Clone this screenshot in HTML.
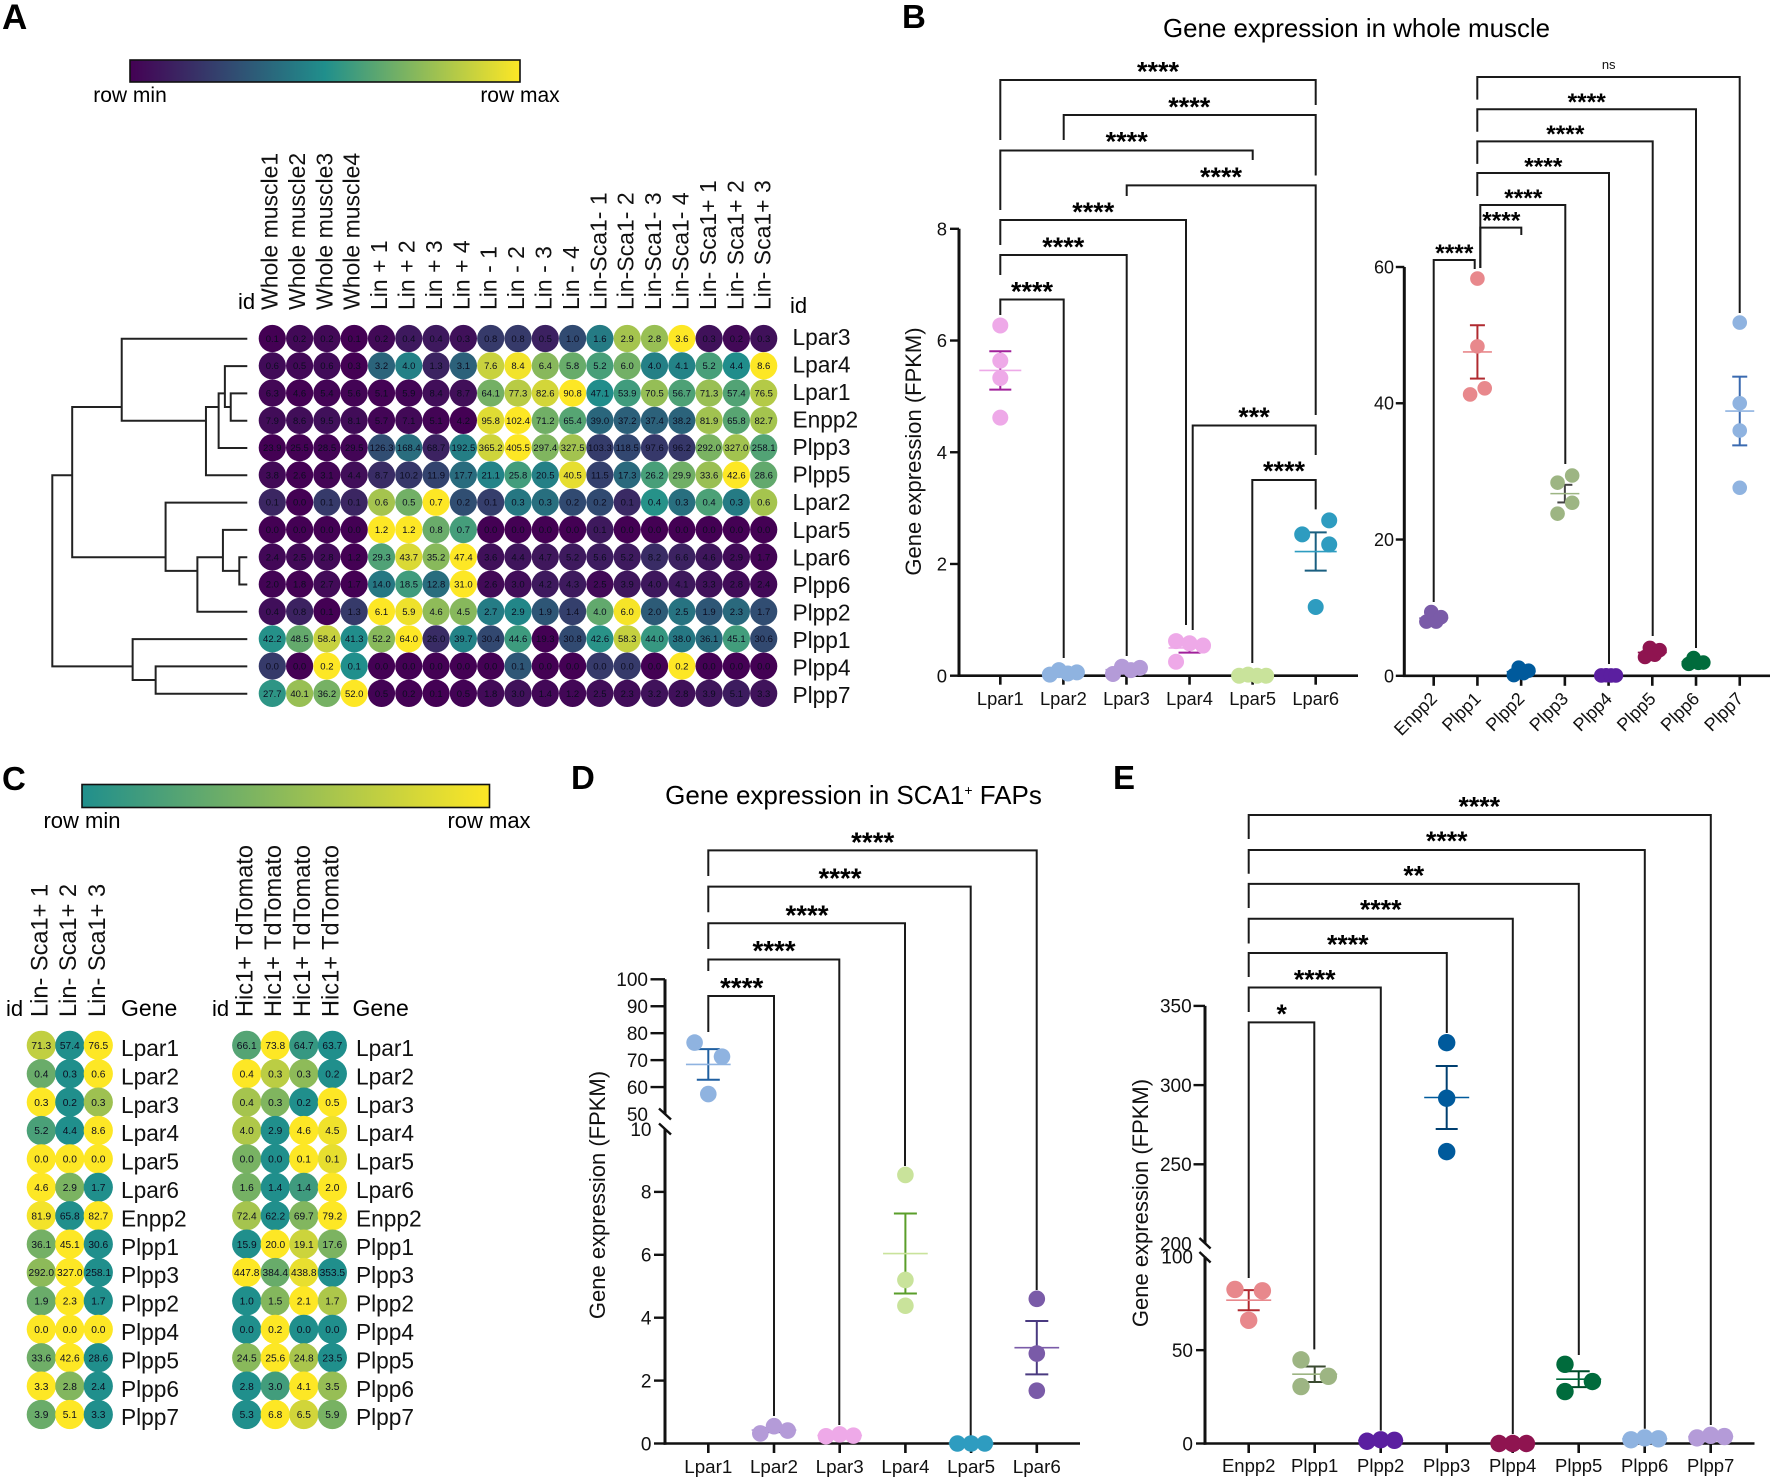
<!DOCTYPE html>
<html lang="en">
<head>
<meta charset="utf-8">
<title>Gene expression figure</title>
<style>
html,body{margin:0;padding:0;background:#fff;}
svg{display:block;font-family:"Liberation Sans",Arial,sans-serif;}
</style>
</head>
<body>
<svg id="figure" xmlns="http://www.w3.org/2000/svg" width="1772" height="1480" viewBox="0 0 1772 1480">
  <defs>
    <linearGradient id="grad-viridis" x1="0" x2="1" y1="0" y2="0">
      <stop offset="0" stop-color="#440154"/>
      <stop offset="0.5" stop-color="#208f8c"/>
      <stop offset="1" stop-color="#fde725"/>
    </linearGradient>
    <linearGradient id="grad-teal" x1="0" x2="1" y1="0" y2="0">
      <stop offset="0" stop-color="#208f8c"/>
      <stop offset="1" stop-color="#fde725"/>
    </linearGradient>
  </defs>
  <rect x="0" y="0" width="1772" height="1480" fill="#fff"/>

  <text x="2" y="29" font-size="35" font-weight="bold">A</text>
  <text x="902" y="28" font-size="33" font-weight="bold">B</text>
  <text x="2" y="790" font-size="33" font-weight="bold">C</text>
  <text x="571" y="789" font-size="33" font-weight="bold">D</text>
  <text x="1113" y="789" font-size="33" font-weight="bold">E</text>

  <rect x="130" y="60" width="390" height="22" fill="url(#grad-viridis)" stroke="#111" stroke-width="1.6"/>
  <text x="130" y="102" font-size="21" text-anchor="middle">row min</text>
  <text x="520" y="102" font-size="21" text-anchor="middle">row max</text>

  <rect x="82" y="784.5" width="407.5" height="23" fill="url(#grad-teal)" stroke="#111" stroke-width="1.6"/>
  <text x="82" y="828" font-size="22" text-anchor="middle">row min</text>
  <text x="489" y="828" font-size="22" text-anchor="middle">row max</text>

  <text x="1356.5" y="37" font-size="25.9" text-anchor="middle">Gene expression in whole muscle</text>
  <text x="853.5" y="804" font-size="26" text-anchor="middle">Gene expression in SCA1<tspan dy="-9" font-size="14">+</tspan><tspan dy="9"> FAPs</tspan></text>

  <text x="238" y="309" font-size="22">id</text>
  <text x="790" y="313" font-size="22">id</text>
  <text x="6" y="1016" font-size="22">id</text>
  <text x="121" y="1016" font-size="23">Gene</text>
  <text x="212" y="1016" font-size="22">id</text>
  <text x="352.5" y="1016" font-size="23">Gene</text>

  <g id="layer-a"></g>
  <g id="layer-c1"></g>
  <g id="layer-c2"></g>
  <g id="layer-b-left"></g>
  <g id="layer-b-right"></g>
  <g id="layer-d"></g>
  <g id="layer-e"></g>
</svg>

<script>
/* ---------- Panel A heatmap data ---------- */
const heatAColumns = ['Whole muscle1','Whole muscle2','Whole muscle3','Whole muscle4','Lin + 1','Lin + 2','Lin + 3','Lin + 4','Lin - 1','Lin - 2','Lin - 3','Lin - 4','Lin-Sca1- 1','Lin-Sca1- 2','Lin-Sca1- 3','Lin-Sca1- 4','Lin- Sca1+ 1','Lin- Sca1+ 2','Lin- Sca1+ 3'];
const heatARows = ['Lpar3','Lpar4','Lpar1','Enpp2','Plpp3','Plpp5','Lpar2','Lpar5','Lpar6','Plpp6','Plpp2','Plpp1','Plpp4','Plpp7'];
const heatAValues = [
  [0.1,0.2,0.2,0.1,0.2,0.4,0.4,0.3,0.8,0.8,0.5,1.0,1.6,2.9,2.8,3.6,0.3,0.2,0.3],
  [0.6,0.5,0.6,0.3,3.2,4.0,1.3,3.1,7.6,8.4,6.4,5.8,5.2,6.0,4.0,4.1,5.2,4.4,8.6],
  [6.3,4.6,5.4,5.6,5.1,5.9,8.4,8.7,64.1,77.3,82.6,90.8,47.1,53.9,70.5,56.7,71.3,57.4,76.5],
  [7.9,8.6,9.5,8.1,5.7,7.1,5.1,4.2,95.8,102.4,71.2,65.4,39.0,37.2,37.4,38.2,81.9,65.8,82.7],
  [23.9,25.5,28.5,29.5,126.3,168.4,68.7,192.5,365.2,405.5,297.4,327.5,103.3,118.5,97.6,96.2,292.0,327.0,258.1],
  [3.8,2.6,3.1,4.4,8.7,10.2,11.9,17.7,21.1,25.8,20.5,40.5,11.5,17.3,26.2,29.9,33.6,42.6,28.6],
  [0.09,0.0,0.14,0.09,0.56,0.48,0.7,0.19,0.15,0.29,0.27,0.18,0.18,0.1,0.36,0.27,0.42,0.3,0.56],
  [0.0,0.0,0.0,0.0,1.2,1.2,0.8,0.7,0.0,0.0,0.0,0.0,0.1,0.0,0.0,0.0,0.0,0.0,0.0],
  [2.4,2.5,2.8,1.2,29.3,43.7,35.2,47.4,3.6,4.4,4.7,5.2,5.6,5.2,8.2,6.6,4.6,2.9,1.7],
  [2.0,1.8,2.7,1.7,14.0,18.5,12.8,31.0,2.6,3.0,4.2,4.3,2.5,3.9,4.0,4.1,3.3,2.8,2.4],
  [0.4,0.8,0.1,1.3,6.1,5.9,4.6,4.5,2.7,2.9,1.9,1.4,4.0,6.0,2.0,2.5,1.9,2.3,1.7],
  [42.2,48.5,58.4,41.3,52.2,64.0,26.0,39.7,30.4,44.6,19.3,30.8,42.6,58.3,44.0,38.0,36.1,45.1,30.6],
  [0.04,0.0,0.2,0.1,0.0,0.0,0.0,0.0,0.0,0.06,0.0,0.0,0.04,0.04,0.0,0.2,0.0,0.0,0.0],
  [27.7,40.1,36.2,52.0,0.5,0.2,0.1,0.5,1.8,3.0,1.4,1.2,2.5,2.3,3.2,2.8,3.9,5.1,3.3]
];
/* Dendrogram merges: [childA, childB, height]. Child < 14 is a leaf row; child >= 14 is merge (child - 14). */
const dendrogramMerges = [
  [8,9,0.041],[7,14,0.125],[15,10,0.256],[6,16,0.419],
  [2,3,0.085],[1,18,0.115],[19,4,0.147],[20,5,0.212],[0,21,0.644],[22,17,0.898],
  [12,13,0.47],[11,24,0.588],[23,25,1.0]
];

/* ---------- Panel C heatmap data ---------- */
const heatCRows = ['Lpar1','Lpar2','Lpar3','Lpar4','Lpar5','Lpar6','Enpp2','Plpp1','Plpp3','Plpp2','Plpp4','Plpp5','Plpp6','Plpp7'];
const heatC1Columns = ['Lin- Sca1+ 1','Lin- Sca1+ 2','Lin- Sca1+ 3'];
const heatC1Values = [
  [71.3,57.4,76.5],[0.4,0.3,0.6],[0.34,0.2,0.28],[5.2,4.4,8.6],[0.0,0.0,0.0],[4.6,2.9,1.7],[81.9,65.8,82.7],
  [36.1,45.1,30.6],[292.0,327.0,258.1],[1.9,2.3,1.7],[0.0,0.0,0.0],[33.6,42.6,28.6],[3.3,2.8,2.4],[3.9,5.1,3.3]
];
const heatC2Columns = ['Hic1+ TdTomato','Hic1+ TdTomato','Hic1+ TdTomato','Hic1+ TdTomato'];
const heatC2Values = [
  [66.1,73.8,64.7,63.7],[0.4,0.34,0.3,0.2],[0.38,0.33,0.2,0.5],[4.0,2.9,4.6,4.5],[0.04,0.0,0.1,0.09],[1.6,1.35,1.44,2.0],[72.4,62.2,69.7,79.2],
  [15.9,20.0,19.1,17.6],[447.8,384.4,438.8,353.5],[1.0,1.5,2.1,1.7],[0.0,0.2,0.0,0.0],[24.5,25.6,24.8,23.5],[2.8,3.0,4.1,3.5],[5.3,6.8,6.5,5.9]
];

/* ---------- Panel B data ---------- */
const bLeftCategories = ['Lpar1','Lpar2','Lpar3','Lpar4','Lpar5','Lpar6'];
const bLeftYTicks = [0,2,4,6,8];
const bLeftValues = [
  [6.27,5.64,5.33,4.62],
  [0.02,0.10,0.04,0.06],
  [0.03,0.16,0.10,0.14],
  [0.62,0.25,0.54,0.58],
  [0.0,0.02,0.0,0.0],
  [2.53,2.78,2.35,1.23]
];
const bRightCategories = ['Enpp2','Plpp1','Plpp2','Plpp3','Plpp4','Plpp5','Plpp6','Plpp7'];
const bRightYTicks = [0,20,40,60];
const bRightValues = [
  [7.95,9.36,7.95,8.6],
  [58.3,48.35,41.3,42.2],
  [0.1,1.2,0.4,0.75],
  [28.35,29.4,23.8,25.4],
  [0.05,0.08,0.05,0.05],
  [2.76,4.1,3.1,3.77],
  [1.75,2.6,1.9,1.95],
  [51.85,40,36,27.6]
];

/* ---------- Panel D data ---------- */
const dCategories = ['Lpar1','Lpar2','Lpar3','Lpar4','Lpar5','Lpar6'];
const dYTicks = [0,2,4,6,8,10,50,60,70,80,90,100];
const dUntickedLabels = [10,50];
const dValues = [
  [76.5,71.3,57.4],
  [0.32,0.55,0.41],
  [0.23,0.29,0.25],
  [8.54,5.2,4.38],
  [0.0,0.0,0.0],
  [4.6,2.86,1.68]
];

/* ---------- Panel E data ---------- */
const eCategories = ['Enpp2','Plpp1','Plpp2','Plpp3','Plpp4','Plpp5','Plpp6','Plpp7'];
const eYTicks = [0,50,100,200,250,300,350];
const eUntickedLabels = [100,200];
const eValues = [
  [82.5,81.8,66],
  [44.8,30.5,36],
  [1.2,2,1.7],
  [326.8,291.7,258],
  [0,0,0],
  [42.4,27.8,33.2],
  [2,3,2.5],
  [3,4.4,3.7]
];

/* ---------- Drawing helpers ---------- */
const SVGNS = 'http://www.w3.org/2000/svg';
function create(tag, attrs, parent) {
  const el = document.createElementNS(SVGNS, tag);
  for (const k in attrs) el.setAttribute(k, attrs[k]);
  parent.appendChild(el);
  return el;
}
function drawLine(parent, x1, y1, x2, y2, stroke, width, name) {
  const el = create('line', {x1: x1, y1: y1, x2: x2, y2: y2, stroke: stroke, 'stroke-width': width}, parent);
  
  
  return el;
}
function drawText(parent, x, y, str, size, extra, name) {
  const el = create('text', Object.assign({x: x, y: y, 'font-size': size}, extra || {}), parent);
  el.textContent = str;
  
  
  return el;
}
function slug(s) { return String(s).toLowerCase().replace(/[^a-z0-9]+/g, '-').replace(/^-|-$/g, ''); }
function lerpColor(a, b, t) {
  const pa = [1,3,5].map(function(i){ return parseInt(a.substr(i,2),16); });
  const pb = [1,3,5].map(function(i){ return parseInt(b.substr(i,2),16); });
  return 'rgb(' + pa.map(function(v,i){ return Math.round(v + (pb[i]-v)*t); }).join(',') + ')';
}
function viridisColor(t) {
  return t < 0.5 ? lerpColor('#440154','#208f8c',t*2) : lerpColor('#208f8c','#fde725',(t-0.5)*2);
}
function tealColor(t) { return lerpColor('#208f8c','#fde725',t); }

/* ---------- Heatmap ---------- */
function drawHeatmap(layer, rows, cols, values, colorFn, g) {
  rows.forEach(function(rowName, i) {
    const row = values[i];
    const mn = Math.min.apply(null, row), mx = Math.max.apply(null, row);
    row.forEach(function(v, j) {
      const t = mx === mn ? 1 : (v - mn) / (mx - mn);
      const cx = g.cx0 + j * g.dx, cy = g.cy0 + i * g.dy;
      const c = create('circle', {cx: cx, cy: cy, r: g.r, fill: colorFn(t)}, layer);
      
      
      drawText(layer, cx, cy + g.fs * 0.36, v.toFixed(1), g.fs, {'text-anchor': 'middle', fill: '#0c0c20'}, 'cell-value-' + slug(rowName) + '-' + (j + 1));
    });
    drawText(layer, g.labelX, g.labelY0 + i * g.labelDy, rowName, g.labelFs, {fill: '#111'}, 'row-label-' + slug(rowName));
  });
  cols.forEach(function(colName, j) {
    const x = g.colX0 + j * g.colDx, y = g.colBottom;
    drawText(layer, x, y, colName, g.colFs, {transform: 'rotate(-90 ' + x + ' ' + y + ')', fill: '#111'}, 'column-label-' + slug(colName) + '-' + (j + 1));
  });
}
drawHeatmap(document.getElementById('layer-a'), heatARows, heatAColumns, heatAValues, viridisColor, {
  cx0: 272.3, dx: 27.3, cy0: 338.5, dy: 27.3, r: 13.6, fs: 9.5,
  labelX: 792.5, labelY0: 345, labelDy: 27.54, labelFs: 22.7,
  colX0: 277.5, colDx: 27.4, colBottom: 310, colFs: 23
});
drawHeatmap(document.getElementById('layer-c1'), heatCRows, heatC1Columns, heatC1Values, tealColor, {
  cx0: 41.3, dx: 28.5, cy0: 1045.3, dy: 28.4, r: 14.6, fs: 10.2,
  labelX: 121, labelY0: 1056, labelDy: 28.4, labelFs: 22.7,
  colX0: 47.5, colDx: 28.7, colBottom: 1017, colFs: 23.6
});
drawHeatmap(document.getElementById('layer-c2'), heatCRows, heatC2Columns, heatC2Values, tealColor, {
  cx0: 246.7, dx: 28.55, cy0: 1045.3, dy: 28.4, r: 14.6, fs: 10.2,
  labelX: 356, labelY0: 1056, labelDy: 28.4, labelFs: 22.7,
  colX0: 252.5, colDx: 28.7, colBottom: 1017, colFs: 23.6
});

/* ---------- Dendrogram ---------- */
(function drawDendrogram() {
  const layer = document.getElementById('layer-a');
  const leafCount = heatARows.length;
  const xOfHeight = function(h) { return 247.3 - h * 195; };
  const rowY = function(i) { return 338.8 + i * 27.3; };
  const nodes = [];
  function info(child) {
    if (child < leafCount) return {x: xOfHeight(0), y: rowY(child), leaves: [child]};
    return nodes[child - leafCount];
  }
  dendrogramMerges.forEach(function(m, k) {
    const a = info(m[0]), b = info(m[1]);
    const x = xOfHeight(m[2]);
    const leaves = a.leaves.concat(b.leaves);
    const y = leaves.reduce(function(s, l) { return s + rowY(l); }, 0) / leaves.length;
    nodes.push({x: x, y: y, leaves: leaves});
    const el = create('polyline', {
      points: [a.x, a.y, x, a.y, x, b.y, b.x, b.y].join(' '),
      fill: 'none', stroke: '#222', 'stroke-width': 2
    }, layer);
    
    
  });
})();

/* ---------- Scatter chart machinery ---------- */
function makeYScale(segments) {
  return function(v) {
    let seg = segments[segments.length - 1];
    for (let i = 0; i < segments.length; i++) { if (v <= segments[i].d1) { seg = segments[i]; break; } }
    return seg.r0 + (v - seg.d0) / (seg.d1 - seg.d0) * (seg.r1 - seg.r0);
  };
}
/* Swarm layout: isolated dots stay centred, flat clusters spread evenly, chains alternate sides. */
function swarmOffsets(vals, yFn, r, spread) {
  const ys = vals.map(yFn);
  const T = 2 * r + 0.5;
  const order = vals.map(function(_, i) { return i; }).sort(function(a, b) { return ys[a] - ys[b]; });
  const clusters = [];
  order.forEach(function(i, k) {
    if (k > 0 && ys[i] - ys[order[k - 1]] < T) clusters[clusters.length - 1].push(i);
    else clusters.push([i]);
  });
  const off = vals.map(function() { return 0; });
  clusters.forEach(function(cl) {
    if (cl.length === 1) return;
    const inArrayOrder = cl.slice().sort(function(a, b) { return a - b; });
    const span = Math.max.apply(null, cl.map(function(i){ return ys[i]; })) - Math.min.apply(null, cl.map(function(i){ return ys[i]; }));
    if (span <= 1.4 * r) {
      inArrayOrder.forEach(function(i, k) { off[i] = spread * (2 * k / (cl.length - 1) - 1); });
    } else {
      const placed = [];
      inArrayOrder.forEach(function(i) {
        const slots = [-spread, spread, 0];
        for (let s = 0; s < slots.length; s++) {
          const hit = placed.some(function(p) { return p.o === slots[s] && Math.abs(ys[p.i] - ys[i]) < T; });
          if (!hit || s === slots.length - 1) { off[i] = slots[s]; placed.push({i: i, o: slots[s]}); break; }
        }
      });
    }
  });
  return off;
}
function drawScatter(layer, cfg) {
  const yFn = makeYScale(cfg.segments);
  const xFn = function(i) { return cfg.x0 + i * cfg.dx; };
  const y0 = yFn(0);
  const axisColor = '#111';
  /* axis */
  cfg.segments.forEach(function(s, k) {
    drawLine(layer, cfg.axisX, s.r0 + (k === 0 ? 1.25 : 0), cfg.axisX, s.r1, axisColor, 3, 'y-axis-segment-' + (k + 1));
  });
  drawLine(layer, cfg.axisX - 1.5, y0, cfg.xEnd, y0, axisColor, 2.6, 'x-axis');
  /* breaks */
  if (cfg.breakYs) cfg.breakYs.forEach(function(b, k) {
    drawLine(layer, cfg.axisX - cfg.breakW, b, cfg.axisX + cfg.breakW, b + cfg.breakH, axisColor, 2.4, 'axis-break-mark-' + (k + 1));
  });
  /* y ticks */
  cfg.yTicks.forEach(function(t) {
    const y = yFn(t);
    const upper = cfg.segments.length > 1 && t > cfg.segments[0].d1;
    const len = upper ? cfg.tickUpper : cfg.tickLower;
    const labelX = upper ? cfg.labelUpper : cfg.labelLower;
    if (!(cfg.unticked && cfg.unticked.indexOf(t) >= 0)) {
      drawLine(layer, cfg.axisX - len, y, cfg.axisX, y, axisColor, 2.4, 'y-tick-' + t);
    }
    drawText(layer, labelX, y + cfg.tickFs * 0.36, String(t), cfg.tickFs, {'text-anchor': 'end', fill: '#111'}, 'y-tick-label-' + t);
  });
  /* categories */
  cfg.categories.forEach(function(name, i) {
    const x = xFn(i);
    drawLine(layer, x, y0, x, y0 + cfg.xTickLen, axisColor, 2.6, 'x-tick-' + slug(name));
    if (cfg.rotateLabels) {
      const lx = x + cfg.rotDx, ly = y0 + cfg.rotDy;
      drawText(layer, lx, ly, name, cfg.catFs, {'text-anchor': 'end', transform: 'rotate(-45 ' + lx + ' ' + ly + ')', fill: '#111'}, 'x-label-' + slug(name));
    } else {
      drawText(layer, x, cfg.catBaseline, name, cfg.catFs, {'text-anchor': 'middle', fill: '#111'}, 'x-label-' + slug(name));
    }
  });
  /* brackets */
  cfg.brackets.forEach(function(b, k) {
    const el = create('polyline', {
      points: [b[0], b[3], b[0], b[2], b[1], b[2], b[1], b[4]].join(' '),
      fill: 'none', stroke: '#1a1a1a', 'stroke-width': 2
    }, layer);
    
    
    if (b[5] === 'ns') {
      drawText(layer, b[6], b[7] + 4.5, 'ns', 13, {'text-anchor': 'middle', fill: '#111'}, 'significance-label-' + (k + 1));
    } else {
      drawText(layer, b[6], b[7] + cfg.starFs * 0.48, b[5], cfg.starFs, {'text-anchor': 'middle', 'font-weight': 'bold', fill: '#000'}, 'significance-label-' + (k + 1));
    }
  });
  /* series */
  cfg.values.forEach(function(vals, i) {
    const name = slug(cfg.categories[i]);
    const cx = xFn(i);
    const n = vals.length;
    const mean = vals.reduce(function(s, v) { return s + v; }, 0) / n;
    const sd = Math.sqrt(vals.reduce(function(s, v) { return s + (v - mean) * (v - mean); }, 0) / (n - 1));
    const sem = sd / Math.sqrt(n);
    const yMean = yFn(mean), yHi = yFn(mean + sem), yLo = yFn(Math.max(mean - sem, 0));
    drawLine(layer, cx, yHi, cx, yLo, cfg.semColors[i], 2, 'sem-bar-' + name);
    drawLine(layer, cx - cfg.semW / 2, yHi, cx + cfg.semW / 2, yHi, cfg.semColors[i], 2, 'sem-cap-top-' + name);
    drawLine(layer, cx - cfg.semW / 2, yLo, cx + cfg.semW / 2, yLo, cfg.semColors[i], 2, 'sem-cap-bottom-' + name);
    drawLine(layer, cx - cfg.meanW / 2, yMean, cx + cfg.meanW / 2, yMean, cfg.dotColors[i], 1.6, 'mean-line-' + name);
    const offsets = swarmOffsets(vals, yFn, cfg.r, cfg.spread);
    vals.forEach(function(v, k) {
      const dot = create('circle', {cx: cx + offsets[k], cy: yFn(v), r: cfg.r, fill: cfg.dotColors[i]}, layer);
      
      
    });
  });
  /* y title */
  if (cfg.yTitleX) {
    drawText(layer, cfg.yTitleX, cfg.yTitleY, 'Gene expression (FPKM)', 22, {'text-anchor': 'middle', transform: 'rotate(-90 ' + cfg.yTitleX + ' ' + cfg.yTitleY + ')', fill: '#111'}, 'y-axis-title');
  }
}

const PINK = '#eea9e8', BLUE = '#8fb3e0', LILAC = '#b49bd8', LIME = '#c9e39b', CYAN = '#2e9cc0',
      VIOLET = '#7a5ba8', SALMON = '#e8888c', NAVY = '#005a9c', SAGE = '#9db583', PURPLE = '#5b1fa0',
      WINE = '#8f1450', GREEN = '#006b3c';

drawScatter(document.getElementById('layer-b-left'), {
  categories: bLeftCategories, values: bLeftValues, yTicks: bLeftYTicks,
  segments: [{d0: 0, d1: 8, r0: 675.7, r1: 228.8}],
  x0: 1000.3, dx: 63.08, axisX: 959, xEnd: 1358,
  tickLower: 9, labelLower: 947, tickFs: 18.5, xTickLen: 9, catFs: 18.3, catBaseline: 705,
  r: 8, spread: 13.5, meanW: 42, semW: 22, starFs: 27,
  dotColors: [PINK, BLUE, LILAC, PINK, LIME, CYAN],
  semColors: ['#a0209a', '#3a6ab0', '#5a3d9a', '#a0209a', '#5a9e2a', '#1a5f80'],
  yTitleX: 921, yTitleY: 451.5,
  brackets: [
    [1000.3,1315.7,80,140,105,'****',1158,67.5],
    [1063.7,1315.7,115,140,175.5,'****',1189.3,102.8],
    [1000.3,1252.7,150.5,210,160,'****',1126.7,137.7],
    [1126.7,1315.7,185.4,196,415,'****',1221,173],
    [1000.3,1186,220,245,625,'****',1093.3,208],
    [1000.3,1126.7,255,275,656,'****',1063.3,243],
    [1000.3,1063.7,299.5,315,658,'****',1032,287.3],
    [1192.7,1315.7,425.5,630,455,'***',1254,413],
    [1252.3,1315.7,480,663,509.4,'****',1284,467]
  ]
});

drawScatter(document.getElementById('layer-b-right'), {
  categories: bRightCategories, values: bRightValues, yTicks: bRightYTicks,
  segments: [{d0: 0, d1: 60, r0: 675.8, r1: 267}],
  x0: 1433.7, dx: 43.72, axisX: 1404.3, xEnd: 1770,
  tickLower: 8.5, labelLower: 1394, tickFs: 18, xTickLen: 10, catFs: 18, 
  rotateLabels: true, rotDx: 4.5, rotDy: 24,
  r: 7.3, spread: 7.3, meanW: 29, semW: 15, starFs: 24.5,
  dotColors: [VIOLET, SALMON, NAVY, SAGE, PURPLE, WINE, GREEN, BLUE],
  semColors: ['#4a3a80', '#b02a30', '#003f70', '#444', '#3d1080', '#6a0a38', '#004a28', '#3a6ab0'],
  brackets: [
    [1477.3,1739.7,77,99.6,313,'ns',1608.7,64.3],
    [1477.3,1696,109.3,131.7,648,'****',1586.7,98.3],
    [1477.3,1652.7,141.4,163.9,636,'****',1565.3,130.4],
    [1477.3,1609,173,196,664,'****',1543.3,162.5],
    [1480.3,1565.3,205,268,464,'****',1523.3,194],
    [1480.3,1521.3,227.6,268,235,'****',1501.3,216.6],
    [1433.7,1474.7,260,602,269,'****',1454.3,249]
  ]
});

drawScatter(document.getElementById('layer-d'), {
  categories: dCategories, values: dValues, yTicks: dYTicks, unticked: dUntickedLabels,
  segments: [{d0: 0, d1: 10, r0: 1443.5, r1: 1129}, {d0: 50, d1: 100, r0: 1114, r1: 979.3}],
  breakYs: [1108.5, 1123.5], breakW: 6, breakH: 11,
  x0: 708.3, dx: 65.7, axisX: 665, xEnd: 1080,
  tickLower: 11, tickUpper: 14.5, labelLower: 651.5, labelUpper: 648, tickFs: 19, xTickLen: 9.5, catFs: 18.8, catBaseline: 1473,
  r: 8.3, spread: 13.7, meanW: 44.7, semW: 23, starFs: 27.7,
  dotColors: [BLUE, LILAC, PINK, LIME, CYAN, VIOLET],
  semColors: ['#1f5fa0', '#5a3d9a', '#a0209a', '#5a9e2a', '#1a5f80', '#4a3a80'],
  yTitleX: 605, yTitleY: 1195,
  brackets: [
    [708.3,1036.7,850.4,876,1290,'****',872.7,838],
    [708.3,970.7,886.6,912.3,1436.6,'****',840,874.2],
    [708.3,905,923.3,949,1166,'****',807,911],
    [708.3,839.3,959.5,971,1425,'****',774,946.7],
    [708.3,774,996,1032,1416,'****',741.7,983.9]
  ]
});

drawScatter(document.getElementById('layer-e'), {
  categories: eCategories, values: eValues, yTicks: eYTicks, unticked: eUntickedLabels,
  segments: [{d0: 0, d1: 100, r0: 1443.5, r1: 1256.8}, {d0: 200, d1: 350, r0: 1243.5, r1: 1005.9}],
  breakYs: [1238, 1252], breakW: 5.6, breakH: 10.5,
  x0: 1248.7, dx: 66, axisX: 1205, xEnd: 1754.5,
  tickLower: 9, tickUpper: 11.5, labelLower: 1193, labelUpper: 1191.7, tickFs: 19, xTickLen: 9.5, catFs: 18.5, catBaseline: 1472,
  r: 8.7, spread: 13.7, meanW: 45, semW: 22, starFs: 26.7,
  dotColors: [SALMON, SAGE, PURPLE, NAVY, WINE, GREEN, BLUE, LILAC],
  semColors: ['#b02a30', '#3a4a30', '#3d1080', '#003f70', '#6a0a38', '#004a28', '#3a6ab0', '#5a3d9a'],
  yTitleX: 1148, yTitleY: 1203,
  brackets: [
    [1248.7,1710.8,815,839,1425,'****',1479.3,802.7],
    [1248.7,1644.8,850,873.8,1428.8,'****',1446.8,837],
    [1248.7,1578.8,883.9,908,1355,'**',1413.8,871.5],
    [1248.7,1512.8,918.7,943.5,1434,'****',1380.8,905.9],
    [1248.7,1446.8,953,977,1033,'****',1347.8,940.7],
    [1248.7,1380.8,987.5,1012,1430.6,'****',1314.7,975.6],
    [1248.7,1314.3,1022.4,1278,1349.4,'*',1281.7,1010]
  ]
});
</script>
</body>
</html>
